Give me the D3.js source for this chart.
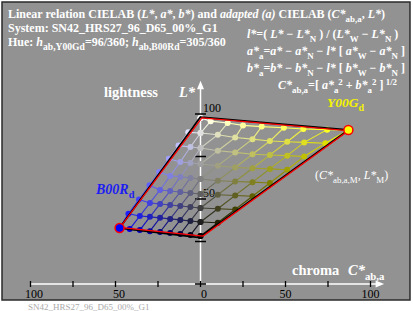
<!DOCTYPE html>
<html><head><meta charset="utf-8">
<script src="https://cdn.jsdelivr.net/npm/d3@7"></script>
<style>body{margin:0;background:#fff}svg{display:block}text{font-family:"Liberation Serif","Times New Roman",serif}</style>
</head><body>
<script>
// ---- data (chroma C*ab,a, lightness L*) ----
const chromaTicks = [-100, -75, -50, -25, 0, 25, 50, 75, 100];
const chromaLabels = ["100", "", "50", "", "0", "", "50", "", "100"];
const lightTicks = [0, 25, 50, 75, 100];
const lightLabels = ["", "", "50", "", "100"];

// yellow side (Y00Gd) lattice rows, row index = step from the grey axis
const yellowRows = [
  [[0,28.2],[10.2,36.0],[20.4,43.8],[30.6,51.6],[40.8,59.4],[51,67.2],[61,75.0],[73.5,82.8],[87,90.6]],
  [[0,36.5],[10.2,44.3],[20.4,52.1],[30.6,59.9],[40.8,67.7],[51,75.5],[61,83.3],[74.5,90.8]],
  [[0,44.7],[10.2,52.5],[20.4,60.3],[30.6,68.1],[40.8,75.9],[51,83.7],[60.5,91.2]],
  [[0,52.9],[10.2,60.7],[20.4,68.5],[30.6,76.3],[40.8,84.1],[49,91.9]],
  [[0,61.8],[10.2,69.6],[20.4,77.4],[30.6,85.2],[36,92.6]],
  [[0,70.6],[10.2,78.4],[20.4,86.2],[25,93.3]],
  [[0,80.0],[10.2,87.8],[16,94.7]],
  [[0,88.8],[6,95.8]],
  [[0,97.6]]
];
// blue side (B00Rd) lattice rows
const blueRows = [
  [[0,28.2],[-5.95,28.8],[-11.9,29.4],[-17.85,30.0],[-23.8,30.6],[-29.75,31.1],[-35.7,31.7],[-41.65,32.3],[-47.6,32.9]],
  [[0,36.5],[-5.95,37.1],[-11.9,37.7],[-17.85,38.3],[-23.8,38.9],[-29.75,39.5],[-35.7,40.0],[-42.4,41.3]],
  [[0,44.7],[-5.95,45.3],[-11.9,45.9],[-17.85,46.5],[-23.8,47.1],[-29.75,47.7],[-36.2,49.7]],
  [[0,52.9],[-5.95,53.5],[-11.9,54.1],[-17.85,54.7],[-23.8,55.3],[-30.0,58.1]],
  [[0,61.8],[-5.95,62.4],[-11.9,63.0],[-17.85,63.6],[-24.3,65.9]],
  [[0,70.6],[-5.95,71.2],[-11.9,71.8],[-18.6,73.7]],
  [[0,80.0],[-5.95,80.6],[-12.9,81.4]],
  [[0,88.8],[-7.2,89.2]],
  [[0,97.6]]
];
// outline polygons: W, Y00Gd, N, B00Rd
const blackOutline = [[0,98.2],[87,90.6],[-0.5,27.3],[-47.6,32.9]];
const redOutline   = [[0.8,97.7],[87,90.2],[1.5,28.2],[-47.3,33.3]];
const hueMarks = [[87,90.6],[-47.6,32.9]];

// ---- drawing ----
const W = 413, H = 311;
const svg = d3.select("body").append("svg").attr("width", W).attr("height", H);
svg.append("rect").attr("x",2).attr("y",2).attr("width",408).attr("height",298)
  .attr("fill","#929292").attr("stroke","#2a2a2a").attr("stroke-width",1.5);

const x = d3.scaleLinear().domain([-100,100]).range([30.5,370.5]);
const y = d3.scaleLinear().domain([0,100]).range([284,114]);

function rich(x0, y0, parts, size, opts) {
  opts = opts || {};
  const t = svg.append("text").attr("x", x0).attr("y", y0).attr("font-size", size)
    .attr("fill", opts.fill || "#fff").attr("font-weight", opts.weight || "bold")
    .style("white-space", "pre");
  let cur = 0;
  const subScale = opts.sub || 0.74;
  const supRaise = opts.sup || 0.42;
  parts.forEach(p => {
    const s = p[0], f = p[1] || "";
    const off = f.includes("_") ? size*0.32 : f.includes("^") ? -size*supRaise : 0;
    const ts = t.append("tspan").text(s).attr("dy", off - cur);
    cur = off;
    if (f.includes("i")) ts.attr("font-style", "italic");
    if (off !== 0) ts.attr("font-size", size*subScale);
  });
  return t;
}

// titles
rich(8, 18, [["Linear relation CIELAB ("],["L*","i"],[", "],["a*","i"],[", "],["b*","i"],[") and "],["adapted (a)","i"],[" CIELAB ("],["C*","i"],["ab,a","_"],[", "],["L*","i"],[")"]], 12);
rich(8, 32, [["System: SN42_HRS27_96_D65_00%_G1"]], 12);
rich(8, 46, [["Hue: "],["h","i"],["ab,Y00Gd","_"],["=96/360; "],["h","i"],["ab,B00Rd","_"],["=305/360"]], 12, {sub:0.8});

// formulas
rich(247, 38, [["l*","i"],["=( "],["L*","i"],[" − "],["L*","i"],["N","_"],[" ) / ("],["L*","i"],["W","_"],[" − "],["L*","i"],["N","_"],[" )"]], 12);
rich(247, 55, [["a*","i"],["a","_"],["="],["a*","i"],[" − "],["a*","i"],["N","_"],[" − "],["l*","i"],[" [ "],["a*","i"],["W","_"],[" − "],["a*","i"],["N","_"],[" ]"]], 12);
rich(247, 72, [["b*","i"],["a","_"],["="],["b*","i"],[" − "],["b*","i"],["N","_"],[" − "],["l*","i"],[" [ "],["b*","i"],["W","_"],[" − "],["b*","i"],["N","_"],[" ]"]], 12);
rich(278, 89, [["C*","i"],["ab,a","_"],["=[ "],["a*","i"],["a","_"],["2","^"],[" + "],["b*","i"],["a","_"],["2","^"],[" ]"],[" 1/2","^"]], 12, {sup:0.36});
rich(327, 107, [["Y00G","i"],["d","_"]], 13.5, {fill:"#f4f400"});

// axes (white)
const ax = svg.append("g");
ax.append("line").attr("x1", x(-100)).attr("x2", x(104)).attr("y1", y(0)).attr("y2", y(0))
  .attr("stroke","#fff").attr("stroke-width",1.5);
ax.append("path").attr("d", `M${x(108)},${y(0)} L${x(103)},${y(0)-3.5} L${x(103)},${y(0)+3.5} Z`).attr("fill","#fff");
ax.append("line").attr("x1", x(0)).attr("x2", x(0)).attr("y1", y(0)).attr("y2", y(116))
  .attr("stroke","#fff").attr("stroke-width",1.5);
ax.append("path").attr("d", `M${x(0)},${y(119.5)} L${x(0)-3.5},${y(114.5)} L${x(0)+3.5},${y(114.5)} Z`).attr("fill","#fff");

// chroma ticks
ax.selectAll(".ct").data(chromaTicks).enter().append("line")
  .attr("x1", d => x(d)).attr("x2", d => x(d)).attr("y1", y(0)-3).attr("y2", y(0)+3)
  .attr("stroke","#000").attr("stroke-width",1.3);
ax.selectAll(".cl").data(chromaTicks).enter().append("text")
  .attr("x", d => x(d) + (d <= 0 ? 3.5 : 0)).attr("y", 297.5).attr("text-anchor","middle")
  .attr("font-size", 12).attr("fill","#000").text((d,i) => chromaLabels[i]);
// lightness ticks
ax.selectAll(".lt").data(lightTicks).enter().append("line")
  .attr("x1", x(0)-5.5).attr("x2", x(0)+5.5).attr("y1", d => y(d)).attr("y2", d => y(d))
  .attr("stroke","#000").attr("stroke-width",1.5);
ax.selectAll(".ll").data(lightTicks).enter().append("text")
  .attr("x", x(0)+2.5).attr("y", d => y(d)-2.5)
  .attr("font-size", 12).attr("fill","#000").text((d,i) => lightLabels[i]);

// axis titles
rich(104, 97, [["lightness"]], 14.5);
rich(179, 97, [["L*","i"]], 14.5);
rich(292, 275, [["chroma"]], 14.5);
rich(348, 275, [["C*","i"],["ab,a","_"]], 14.5);
rich(315, 179, [["("],["C*","i"],["ab,a,M","_"],[", "],["L*","i"],["M","_"],[")"]], 12, {weight:"normal"});
rich(96, 194, [["B00R","i"],["d","_"]], 14, {fill:"#1c1cf2"});

// lattice
function latticeColor(side, i, j) {
  const a = Math.min(255, 32*i), b = Math.min(255, 32*(i+j));
  return side === "Y" ? d3.rgb(b, b, a) : d3.rgb(a, a, b);
}
function drawLattice(rows, side) {
  const segs = [];
  rows.forEach((row, i) => {
    for (let j = 0; j < row.length - 1; j++) segs.push([row[j], row[j+1], i, j, i, j+1]);
  });
  for (let k = 1; k < rows.length; k++) {
    for (let m = 0; m < k; m++) segs.push([rows[k-m][m], rows[k-m-1][m+1], k-m, m, k-m-1, m+1]);
  }
  const g = svg.append("g");
  g.selectAll("line").data(segs).enter().append("line")
    .attr("x1", d => x(d[0][0])).attr("y1", d => y(d[0][1]))
    .attr("x2", d => x(d[1][0])).attr("y2", d => y(d[1][1]))
    .attr("stroke", d => d3.interpolateRgb(latticeColor(side, d[2], d[3]), latticeColor(side, d[4], d[5]))(0.5))
    .attr("stroke-width", 1.1);
  const pts = [];
  rows.forEach((row, i) => row.forEach((p, j) => pts.push([p, i, j])));
  g.selectAll("circle").data(pts).enter().append("circle")
    .attr("cx", d => x(d[0][0])).attr("cy", d => y(d[0][1])).attr("r", 3)
    .attr("fill", d => latticeColor(side, d[1], d[2]));
}
drawLattice(yellowRows, "Y");
drawLattice(blueRows, "B");

// outlines
const line = d3.line().x(d => x(d[0])).y(d => y(d[1])).curve(d3.curveLinearClosed);
svg.append("path").attr("d", line(blackOutline)).attr("fill","none").attr("stroke","#000").attr("stroke-width",1.8);
svg.append("path").attr("d", line(redOutline)).attr("fill","none").attr("stroke","#ff0000").attr("stroke-width",1.3);
svg.selectAll(".hm").data(hueMarks).enter().append("circle")
  .attr("cx", d => x(d[0])).attr("cy", d => y(d[1])).attr("r", 4.5)
  .attr("fill", (d,i) => i === 0 ? "#ffff00" : "#0000ff").attr("stroke","#ff0000").attr("stroke-width",1.5);

// footer (cut off at the bottom)
svg.append("text").attr("x", 28).attr("y", 309.5).attr("font-size", 9).attr("fill","#aaa")
  .text("SN42_HRS27_96_D65_00%_G1");
</script>
</body></html>
